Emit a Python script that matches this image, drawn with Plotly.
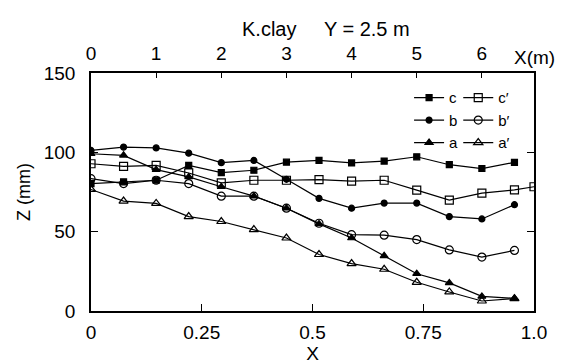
import plotly.graph_objects as go

# ---- data ----
L_m = 6.8  # model length (m), top axis
x_m = [0.0, 0.5, 1.0, 1.5, 2.0, 2.5, 3.0, 3.5, 4.0, 4.5, 5.0, 5.5, 6.0, 6.5]
x_m_cp = x_m + [6.8]

c = [80.3, 81.4, 82.4, 91.8, 87.2, 88.7, 93.8, 94.9, 93.3, 94.5, 97.2, 92.2, 89.8, 93.7]
c_p = [92.8, 91.2, 91.8, 87.0, 80.8, 82.4, 82.4, 82.8, 81.8, 82.4, 76.2, 69.9, 74.3, 76.3, 78.3]
b = [101.2, 103.3, 102.8, 99.5, 93.5, 94.9, 83.0, 71.0, 64.8, 68.0, 68.0, 59.5, 58.0, 67.0]
b_p = [83.4, 80.3, 82.4, 80.3, 72.4, 72.4, 64.8, 55.3, 48.1, 47.8, 45.0, 38.5, 34.0, 38.2]
a = [99.1, 98.1, 89.1, 84.5, 78.3, 72.4, 64.8, 54.9, 46.0, 34.8, 23.5, 17.7, 9.2, 8.0]
a_p = [76.6, 69.3, 67.8, 59.5, 56.4, 51.3, 46.0, 35.6, 29.9, 26.3, 18.1, 12.0, 6.3, 7.8]

x_ticks = [0, 0.25, 0.5, 0.75, 1.0]
x_ticklabels = ["0", "0.25", "0.5", "0.75", "1.0"]
y_ticks = [0, 50, 100, 150]
top_ticks = [0, 1, 2, 3, 4, 5, 6]

X = [v / L_m for v in x_m]
X_cp = [v / L_m for v in x_m_cp]

FONT = "Liberation Sans"
BLK = "black"

series = [
    ("c", X, c, "square", 6, "legend"),
    ("c\u2032", X_cp, c_p, "square-open", 8, "legend2"),
    ("b", X, b, "circle", 6, "legend"),
    ("b\u2032", X, b_p, "circle-open", 8, "legend2"),
    ("a", X, a, "triangle-up", 7, "legend"),
    ("a\u2032", X, a_p, "triangle-up-open", 8, "legend2"),
]

fig = go.Figure()
for name, xs, ys, sym, sz, lg in series:
    fig.add_trace(go.Scatter(
        x=xs, y=ys, name=name, mode="lines+markers",
        line=dict(color=BLK, width=1.2),
        marker=dict(symbol=sym, size=sz, color=BLK,
                    line=dict(color=BLK, width=1.2)),
        legend=lg,
    ))

# helper trace to activate the top (metres) axis
fig.add_trace(go.Scatter(x=x_m, y=c, xaxis="x2", mode="markers",
                         marker=dict(opacity=0), showlegend=False,
                         hoverinfo="skip"))

fig.update_layout(
    width=563, height=362,
    margin=dict(l=83, r=37, t=65, b=55),
    paper_bgcolor="white", plot_bgcolor="white",
    font=dict(family=FONT, size=19, color=BLK),
    showlegend=True,
    xaxis=dict(range=[0, 1.0], tickvals=x_ticks, ticktext=x_ticklabels,
               ticks="inside", ticklen=7, tickcolor=BLK, tickwidth=1.2,
               showline=True, linecolor=BLK, linewidth=1.5, mirror=False,
               showgrid=False, zeroline=False, ticklabelstandoff=3,
               title=dict(text="X", standoff=2, font=dict(size=19))),
    xaxis2=dict(range=[0, L_m], tickvals=top_ticks, overlaying="x",
                side="top", anchor="y",
                ticks="inside", ticklen=5, tickcolor=BLK, tickwidth=1.2,
                showline=True, linecolor=BLK, linewidth=1.5,
                showgrid=False, zeroline=False, ticklabelstandoff=4),
    yaxis=dict(range=[0, 150], tickvals=y_ticks,
               ticks="inside", ticklen=7, tickcolor=BLK, tickwidth=1.2,
               showline=True, linecolor=BLK, linewidth=1.5, mirror="ticks",
               showgrid=False, zeroline=False, ticklabelstandoff=10,
               title=dict(text="Z (mm)", standoff=8, font=dict(size=18))),
    legend=dict(x=0.718, y=0.965, xanchor="left", yanchor="top",
                bgcolor="rgba(0,0,0,0)", font=dict(size=15),
                itemwidth=30, tracegroupgap=0),
    legend2=dict(x=0.829, y=0.965, xanchor="left", yanchor="top",
                 bgcolor="rgba(0,0,0,0)", font=dict(size=15),
                 itemwidth=30, tracegroupgap=0),
    annotations=[
        dict(text="K.clay     Y = 2.5 m", x=0.53, y=1.0, xref="paper",
             yref="paper", xanchor="center", yanchor="bottom", yshift=31,
             showarrow=False, font=dict(size=20)),
        dict(text="X(m)", x=1.0, y=1.0, xref="paper", yref="paper",
             xanchor="center", yanchor="bottom", yshift=3,
             showarrow=False, font=dict(size=19)),
    ],
)

fig.write_html("out.html")
